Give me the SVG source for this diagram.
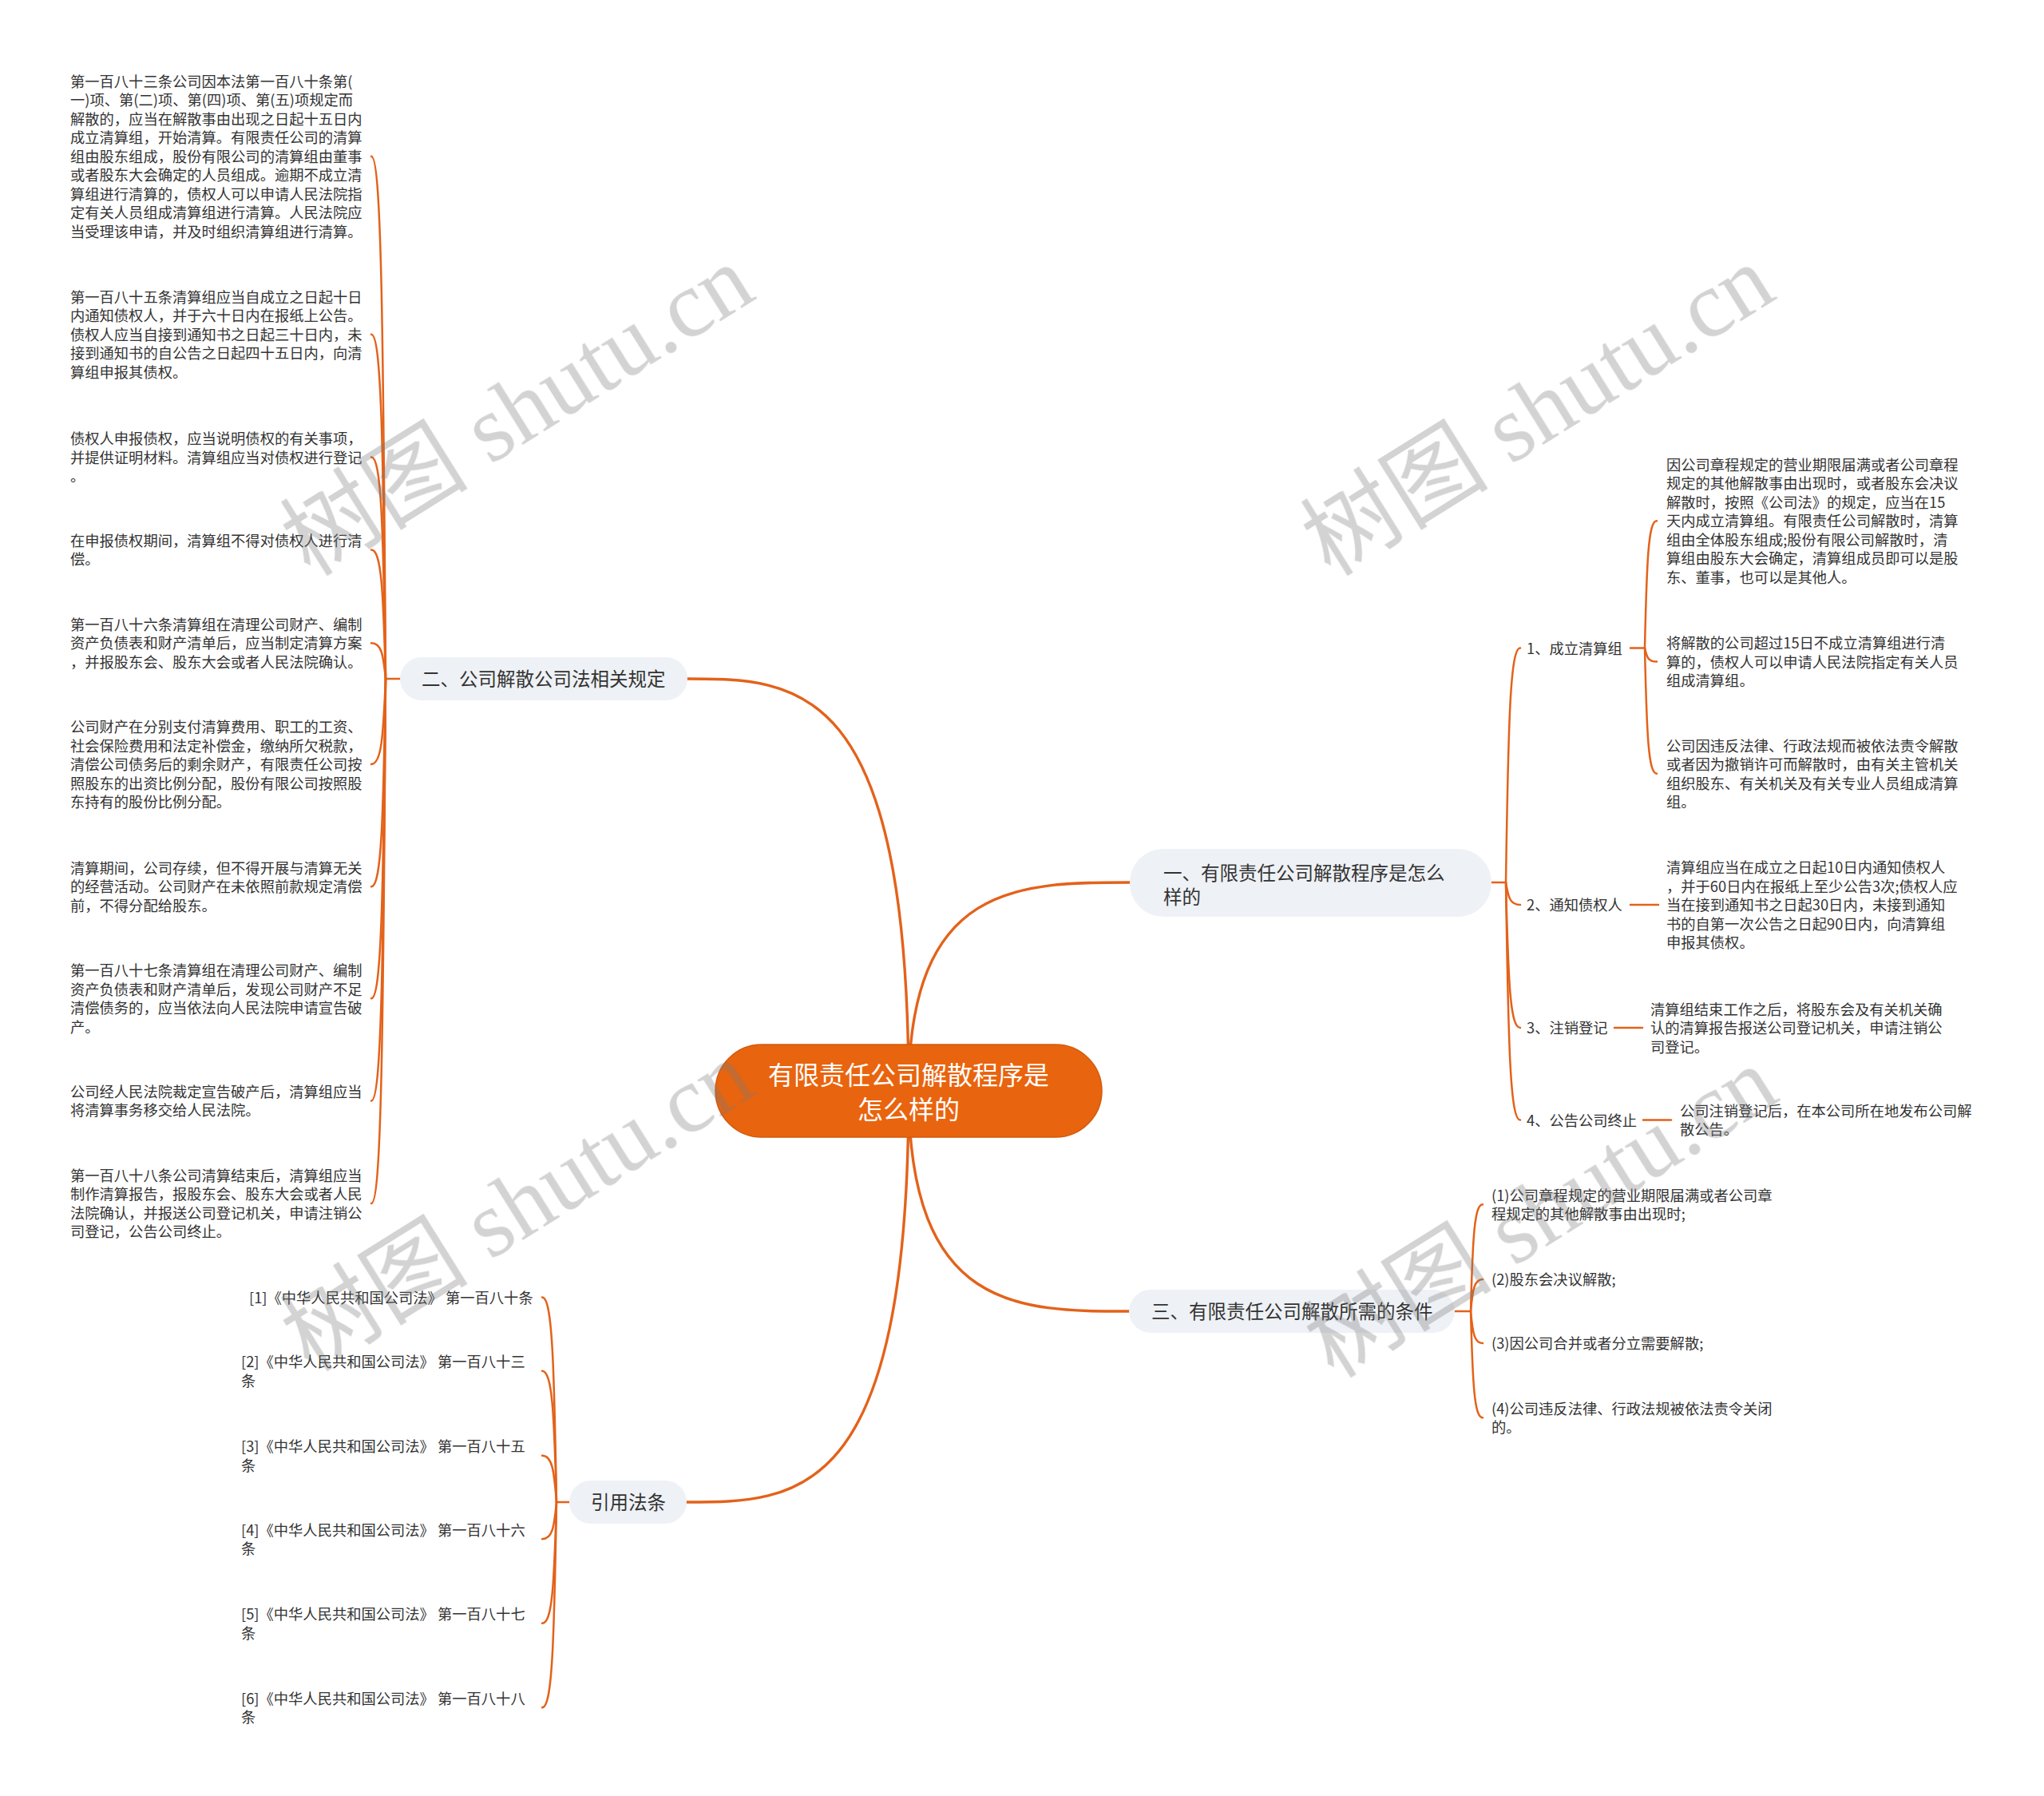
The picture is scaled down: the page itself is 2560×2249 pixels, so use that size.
<svg xmlns="http://www.w3.org/2000/svg" width="2560" height="2249" viewBox="0 0 2560 2249">
<style>
.t{font-family:"Noto Sans CJK SC","Noto Sans",sans-serif;font-size:18.3px;fill:#333}
.b{font-family:"Noto Sans CJK SC","Noto Sans",sans-serif;font-size:23.5px;fill:#333}
.c{font-family:"Noto Sans CJK SC","Noto Sans",sans-serif;font-size:32px;fill:#fff}
.ln{fill:none;stroke:#E3621A;stroke-width:2.5;stroke-linecap:round}
.mn{fill:none;stroke:#E3621A;stroke-width:3.4;stroke-linecap:round}
.pill{fill:#EEF1F5}
.wm{font-size:118px;fill:#7a7a7a;opacity:.33}
</style>
<rect width="2560" height="2249" fill="#fff"/>
<g id="connectors">
<path class="mn" d="M1138,1366 C1138,850 999,850 860,850"/>
<path class="mn" d="M1138,1366 C1138,1105 1276,1105 1415,1105"/>
<path class="mn" d="M1138,1366 C1138,1642 1276,1642 1414,1642"/>
<path class="mn" d="M1138,1366 C1138,1881 999,1881 860,1881"/>
<path class="ln" d="M501,850 H483"/>
<path class="ln" d="M465,195.7 C477.6,195.7 479.9,398.5 483,850"/>
<path class="ln" d="M465,418.7 C477.6,418.7 479.9,552.4 483,850"/>
<path class="ln" d="M465,572.5 C477.6,572.5 479.9,658.5 483,850"/>
<path class="ln" d="M465,688.5 C477.6,688.5 479.9,738.6 483,850"/>
<path class="ln" d="M465,805.2 C477.6,805.2 479.9,819.1 483,850"/>
<path class="ln" d="M465,957 C477.6,957 479.9,923.8 483,850"/>
<path class="ln" d="M465,1110.2 C477.6,1110.2 479.9,1029.5 483,850"/>
<path class="ln" d="M465,1250.2 C477.6,1250.2 479.9,1126.1 483,850"/>
<path class="ln" d="M465,1378.5 C477.6,1378.5 479.9,1214.7 483,850"/>
<path class="ln" d="M465,1507 C477.6,1507 479.9,1303.3 483,850"/>
<path class="ln" d="M713,1881 H697"/>
<path class="ln" d="M679,1624.5 C691.6,1624.5 693.9,1704 697,1881"/>
<path class="ln" d="M679,1716.8 C691.6,1716.8 693.9,1767.8 697,1881"/>
<path class="ln" d="M679,1822.8 C691.6,1822.8 693.9,1841 697,1881"/>
<path class="ln" d="M679,1927.3 C691.6,1927.3 693.9,1913.1 697,1881"/>
<path class="ln" d="M679,2032.8 C691.6,2032.8 693.9,1986.2 697,1881"/>
<path class="ln" d="M679,2138.3 C691.6,2138.3 693.9,2058.3 697,1881"/>
<path class="ln" d="M1868,1105 H1886"/>
<path class="ln" d="M1904,811.5 C1891.4,811.5 1889.1,902.5 1886,1105"/>
<path class="ln" d="M1904,1133 C1891.4,1133 1889.1,1124.3 1886,1105"/>
<path class="ln" d="M1904,1287 C1891.4,1287 1889.1,1230.6 1886,1105"/>
<path class="ln" d="M1904,1402.5 C1891.4,1402.5 1889.1,1310.3 1886,1105"/>
<path class="ln" d="M2042,811.5 H2060"/>
<path class="ln" d="M2075,652.2 C2064.5,652.2 2062.5,701.6 2060,811.5"/>
<path class="ln" d="M2075,828.5 C2064.5,828.5 2062.5,823.2 2060,811.5"/>
<path class="ln" d="M2075,968.75 C2064.5,968.75 2062.5,920 2060,811.5"/>
<path class="ln" d="M2042,1133 H2077"/>
<path class="ln" d="M2022,1287 H2057"/>
<path class="ln" d="M2058,1402.5 H2093"/>
<path class="ln" d="M1822,1642 H1842"/>
<path class="ln" d="M1857,1508.25 C1846.5,1508.25 1844.5,1549.7 1842,1642"/>
<path class="ln" d="M1857,1602 C1846.5,1602 1844.5,1614.4 1842,1642"/>
<path class="ln" d="M1857,1682 C1846.5,1682 1844.5,1669.6 1842,1642"/>
<path class="ln" d="M1857,1775.25 C1846.5,1775.25 1844.5,1733.9 1842,1642"/>
</g>
<g id="root">
<rect x="896" y="1308" width="484" height="116" rx="58" fill="#E9640E" stroke="#D25A0C" stroke-width="1.5"/>
<text class="c" text-anchor="middle"><tspan x="1138" y="1358">有限责任公司解散程序是</tspan><tspan x="1138" y="1401">怎么样的</tspan></text>
</g>
<g id="branch1">
<rect class="pill" x="1415" y="1063" width="453" height="85" rx="42"/>
<text class="b"><tspan x="1457" y="1101.5">一、有限责任公司解散程序是怎么</tspan><tspan x="1457" y="1131.5">样的</tspan></text>
</g>
<g id="branch2">
<rect class="pill" x="501" y="823" width="360" height="54" rx="27"/>
<text class="b" x="528" y="859">二、公司解散公司法相关规定</text>
</g>
<g id="branch3">
<rect class="pill" x="1414" y="1615" width="408" height="54" rx="27"/>
<text class="b" x="1442" y="1651">三、有限责任公司解散所需的条件</text>
</g>
<g id="branch4">
<rect class="pill" x="713" y="1854" width="147" height="54" rx="27"/>
<text class="b" x="740" y="1890">引用法条</text>
</g>
<g id="law1"><text class="t" y="108.7"><tspan x="88">第一百八十三条公司因本法第一百八十条第(</tspan><tspan x="88" dy="23.5">一)项、第(二)项、第(四)项、第(五)项规定而</tspan><tspan x="88" dy="23.5">解散的，应当在解散事由出现之日起十五日内</tspan><tspan x="88" dy="23.5">成立清算组，开始清算。有限责任公司的清算</tspan><tspan x="88" dy="23.5">组由股东组成，股份有限公司的清算组由董事</tspan><tspan x="88" dy="23.5">或者股东大会确定的人员组成。逾期不成立清</tspan><tspan x="88" dy="23.5">算组进行清算的，债权人可以申请人民法院指</tspan><tspan x="88" dy="23.5">定有关人员组成清算组进行清算。人民法院应</tspan><tspan x="88" dy="23.5">当受理该申请，并及时组织清算组进行清算。</tspan></text></g>
<g id="law2"><text class="t" y="378.7"><tspan x="88">第一百八十五条清算组应当自成立之日起十日</tspan><tspan x="88" dy="23.5">内通知债权人，并于六十日内在报纸上公告。</tspan><tspan x="88" dy="23.5">债权人应当自接到通知书之日起三十日内，未</tspan><tspan x="88" dy="23.5">接到通知书的自公告之日起四十五日内，向清</tspan><tspan x="88" dy="23.5">算组申报其债权。</tspan></text></g>
<g id="law3"><text class="t" y="556"><tspan x="88">债权人申报债权，应当说明债权的有关事项，</tspan><tspan x="88" dy="23.5">并提供证明材料。清算组应当对债权进行登记</tspan><tspan x="88" dy="23.5">。</tspan></text></g>
<g id="law4"><text class="t" y="683.7"><tspan x="88">在申报债权期间，清算组不得对债权人进行清</tspan><tspan x="88" dy="23.5">偿。</tspan></text></g>
<g id="law5"><text class="t" y="788.7"><tspan x="88">第一百八十六条清算组在清理公司财产、编制</tspan><tspan x="88" dy="23.5">资产负债表和财产清单后，应当制定清算方案</tspan><tspan x="88" dy="23.5">，并报股东会、股东大会或者人民法院确认。</tspan></text></g>
<g id="law6"><text class="t" y="917"><tspan x="88">公司财产在分别支付清算费用、职工的工资、</tspan><tspan x="88" dy="23.5">社会保险费用和法定补偿金，缴纳所欠税款，</tspan><tspan x="88" dy="23.5">清偿公司债务后的剩余财产，有限责任公司按</tspan><tspan x="88" dy="23.5">照股东的出资比例分配，股份有限公司按照股</tspan><tspan x="88" dy="23.5">东持有的股份比例分配。</tspan></text></g>
<g id="law7"><text class="t" y="1093.7"><tspan x="88">清算期间，公司存续，但不得开展与清算无关</tspan><tspan x="88" dy="23.5">的经营活动。公司财产在未依照前款规定清偿</tspan><tspan x="88" dy="23.5">前，不得分配给股东。</tspan></text></g>
<g id="law8"><text class="t" y="1222"><tspan x="88">第一百八十七条清算组在清理公司财产、编制</tspan><tspan x="88" dy="23.5">资产负债表和财产清单后，发现公司财产不足</tspan><tspan x="88" dy="23.5">清偿债务的，应当依法向人民法院申请宣告破</tspan><tspan x="88" dy="23.5">产。</tspan></text></g>
<g id="law9"><text class="t" y="1373.7"><tspan x="88">公司经人民法院裁定宣告破产后，清算组应当</tspan><tspan x="88" dy="23.5">将清算事务移交给人民法院。</tspan></text></g>
<g id="law10"><text class="t" y="1478.7"><tspan x="88">第一百八十八条公司清算结束后，清算组应当</tspan><tspan x="88" dy="23.5">制作清算报告，报股东会、股东大会或者人民</tspan><tspan x="88" dy="23.5">法院确认，并报送公司登记机关，申请注销公</tspan><tspan x="88" dy="23.5">司登记，公告公司终止。</tspan></text></g>
<g id="cite1"><text class="t" x="312" y="1631.5">[1]《中华人民共和国公司法》 第一百八十条</text></g>
<g id="cite2"><text class="t" y="1712"><tspan x="302">[2]《中华人民共和国公司法》 第一百八十三</tspan><tspan x="302" dy="23.5">条</tspan></text></g>
<g id="cite3"><text class="t" y="1818"><tspan x="302">[3]《中华人民共和国公司法》 第一百八十五</tspan><tspan x="302" dy="23.5">条</tspan></text></g>
<g id="cite4"><text class="t" y="1922.5"><tspan x="302">[4]《中华人民共和国公司法》 第一百八十六</tspan><tspan x="302" dy="23.5">条</tspan></text></g>
<g id="cite5"><text class="t" y="2028"><tspan x="302">[5]《中华人民共和国公司法》 第一百八十七</tspan><tspan x="302" dy="23.5">条</tspan></text></g>
<g id="cite6"><text class="t" y="2133.5"><tspan x="302">[6]《中华人民共和国公司法》 第一百八十八</tspan><tspan x="302" dy="23.5">条</tspan></text></g>
<g id="step1"><text class="t" x="1912" y="818.5">1、成立清算组</text></g>
<g id="step2"><text class="t" x="1912" y="1140">2、通知债权人</text></g>
<g id="step3"><text class="t" x="1912" y="1294">3、注销登记</text></g>
<g id="step4"><text class="t" x="1912" y="1409.5">4、公告公司终止</text></g>
<g id="step1a"><text class="t" y="588.7"><tspan x="2087">因公司章程规定的营业期限届满或者公司章程</tspan><tspan x="2087" dy="23.5">规定的其他解散事由出现时，或者股东会决议</tspan><tspan x="2087" dy="23.5">解散时，按照《公司法》的规定，应当在15</tspan><tspan x="2087" dy="23.5">天内成立清算组。有限责任公司解散时，清算</tspan><tspan x="2087" dy="23.5">组由全体股东组成;股份有限公司解散时，清</tspan><tspan x="2087" dy="23.5">算组由股东大会确定，清算组成员即可以是股</tspan><tspan x="2087" dy="23.5">东、董事，也可以是其他人。</tspan></text></g>
<g id="step1b"><text class="t" y="812"><tspan x="2087">将解散的公司超过15日不成立清算组进行清</tspan><tspan x="2087" dy="23.5">算的，债权人可以申请人民法院指定有关人员</tspan><tspan x="2087" dy="23.5">组成清算组。</tspan></text></g>
<g id="step1c"><text class="t" y="940.5"><tspan x="2087">公司因违反法律、行政法规而被依法责令解散</tspan><tspan x="2087" dy="23.5">或者因为撤销许可而解散时，由有关主管机关</tspan><tspan x="2087" dy="23.5">组织股东、有关机关及有关专业人员组成清算</tspan><tspan x="2087" dy="23.5">组。</tspan></text></g>
<g id="step2a"><text class="t" y="1093"><tspan x="2087">清算组应当在成立之日起10日内通知债权人</tspan><tspan x="2087" dy="23.5">，并于60日内在报纸上至少公告3次;债权人应</tspan><tspan x="2087" dy="23.5">当在接到通知书之日起30日内，未接到通知</tspan><tspan x="2087" dy="23.5">书的自第一次公告之日起90日内，向清算组</tspan><tspan x="2087" dy="23.5">申报其债权。</tspan></text></g>
<g id="step3a"><text class="t" y="1270.5"><tspan x="2067">清算组结束工作之后，将股东会及有关机关确</tspan><tspan x="2067" dy="23.5">认的清算报告报送公司登记机关，申请注销公</tspan><tspan x="2067" dy="23.5">司登记。</tspan></text></g>
<g id="step4a"><text class="t" y="1397.75"><tspan x="2104">公司注销登记后，在本公司所在地发布公司解</tspan><tspan x="2104" dy="23.5">散公告。</tspan></text></g>
<g id="cond1"><text class="t" y="1503.5"><tspan x="1868">(1)公司章程规定的营业期限届满或者公司章</tspan><tspan x="1868" dy="23.5">程规定的其他解散事由出现时;</tspan></text></g>
<g id="cond2"><text class="t" x="1868" y="1609">(2)股东会决议解散;</text></g>
<g id="cond3"><text class="t" x="1868" y="1689">(3)因公司合并或者分立需要解散;</text></g>
<g id="cond4"><text class="t" y="1770.5"><tspan x="1868">(4)公司违反法律、行政法规被依法责令关闭</tspan><tspan x="1868" dy="23.5">的。</tspan></text></g>
<g id="watermark" class="wm" text-anchor="middle">
<text transform="translate(648,514) rotate(-32)" y="40"><tspan font-family="Noto Sans CJK SC, sans-serif">树图</tspan><tspan font-family="Liberation Serif, serif"> shutu.cn</tspan></text>
<text transform="translate(1926,514) rotate(-32)" y="40"><tspan font-family="Noto Sans CJK SC, sans-serif">树图</tspan><tspan font-family="Liberation Serif, serif"> shutu.cn</tspan></text>
<text transform="translate(648,1510) rotate(-32)" y="40"><tspan font-family="Noto Sans CJK SC, sans-serif">树图</tspan><tspan font-family="Liberation Serif, serif"> shutu.cn</tspan></text>
<text transform="translate(1930,1518) rotate(-32)" y="40"><tspan font-family="Noto Sans CJK SC, sans-serif">树图</tspan><tspan font-family="Liberation Serif, serif"> shutu.cn</tspan></text>
</g>
</svg>
